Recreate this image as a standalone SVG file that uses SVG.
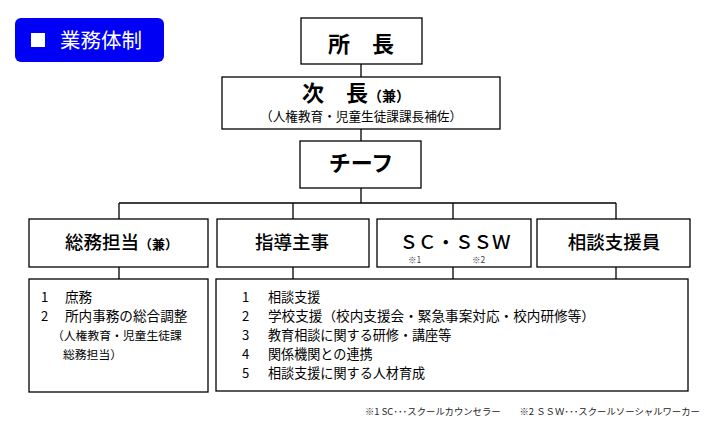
<svg xmlns="http://www.w3.org/2000/svg" width="721" height="443" viewBox="0 0 721 443">
<style>
text{font-family:"Noto Sans CJK JP","Noto Sans",sans-serif;fill:#000}
.box{fill:#fff;stroke:#000;stroke-width:1.3}
.ln{stroke:#000;stroke-width:1.3;fill:none}
.h{font-size:22px;font-weight:bold}
.r{font-size:18.5px;font-weight:500}
.b{font-size:13.1px}
.s{font-size:11.8px}
</style>
<rect width="721" height="443" fill="#fff"/>
<g id="title">
<rect x="15" y="18" width="149" height="44" rx="6" fill="#0000f5"/>
<rect x="31" y="33" width="14" height="14" fill="#fff"/>
<text x="60" y="48" style="font-size:20.5px;fill:#fff">業務体制</text>
</g>
<g id="connectors">
<path class="ln" d="M361 64V77M361 129V141M361 188V203M119 203H616M119 203V219M293 203V219M453 203V219M616 203V219M119 267V279M293 267V279M453 267V279M616 267V279"/>
</g>
<g id="shocho">
<rect class="box" x="301" y="18" width="121" height="46"/>
<text class="h" x="361" y="52" text-anchor="middle">所　長</text>
</g>
<g id="jicho">
<rect class="box" x="222" y="77" width="278" height="52"/>
<text x="302" y="101"><tspan class="h">次　長</tspan><tspan style="font-size:14px;font-weight:bold">（兼）</tspan></text>
<text x="361" y="121" text-anchor="middle" style="font-size:12.8px" textLength="202" lengthAdjust="spacingAndGlyphs">（人権教育・児童生徒課課長補佐）</text>
</g>
<g id="chief">
<rect class="box" x="300" y="141" width="121" height="47"/>
<text class="h" x="361" y="171" text-anchor="middle">チーフ</text>
</g>
<g id="somu">
<rect class="box" x="29" y="219" width="179" height="48"/>
<text x="65" y="249"><tspan class="r">総務担当</tspan><tspan style="font-size:13px;font-weight:bold">（兼）</tspan></text>
</g>
<g id="shido">
<rect class="box" x="217" y="219" width="152" height="48"/>
<text class="r" x="292" y="249" text-anchor="middle">指導主事</text>
</g>
<g id="scssw">
<rect class="box" x="377" y="219" width="154" height="48"/>
<text class="r" x="455" y="249" text-anchor="middle">ＳＣ・ＳＳＷ</text>
<text x="408" y="263" style="font-size:8.5px;fill:#444">※1</text>
<text x="472" y="263" style="font-size:8.5px;fill:#444">※2</text>
</g>
<g id="sodan">
<rect class="box" x="537" y="219" width="153" height="48"/>
<text class="r" x="614" y="249" text-anchor="middle">相談支援員</text>
</g>
<g id="somu-duties">
<rect class="box" x="29" y="279" width="179" height="113"/>
<text class="b" x="41" y="302">1</text><text class="b" x="65" y="302" style="font-size:13.6px">庶務</text>
<text class="b" x="41" y="321">2</text><text class="b" x="65" y="321" style="font-size:13.6px">所内事務の総合調整</text>
<text class="s" x="52" y="340">（人権教育・児童生徒課</text>
<text class="s" x="63" y="359">総務担当）</text>
</g>
<g id="duties">
<rect class="box" x="216" y="279" width="472" height="112"/>
<text class="b" x="242" y="302">1</text><text class="b" x="268" y="302">相談支援</text>
<text class="b" x="242" y="321">2</text><text class="b" x="268" y="321" textLength="327" lengthAdjust="spacingAndGlyphs">学校支援（校内支援会・緊急事案対応・校内研修等）</text>
<text class="b" x="242" y="340">3</text><text class="b" x="268" y="340">教育相談に関する研修・講座等</text>
<text class="b" x="242" y="359">4</text><text class="b" x="268" y="359">関係機関との連携</text>
<text class="b" x="242" y="378">5</text><text class="b" x="268" y="378">相談支援に関する人材育成</text>
</g>
<g id="footnote">
<text x="365" y="415" style="font-size:9px;fill:#222" textLength="335" lengthAdjust="spacingAndGlyphs">※1 SC･･･スクールカウンセラー　　※2 ＳＳＷ･･･スクールソーシャルワーカー</text>
</g>
</svg>
